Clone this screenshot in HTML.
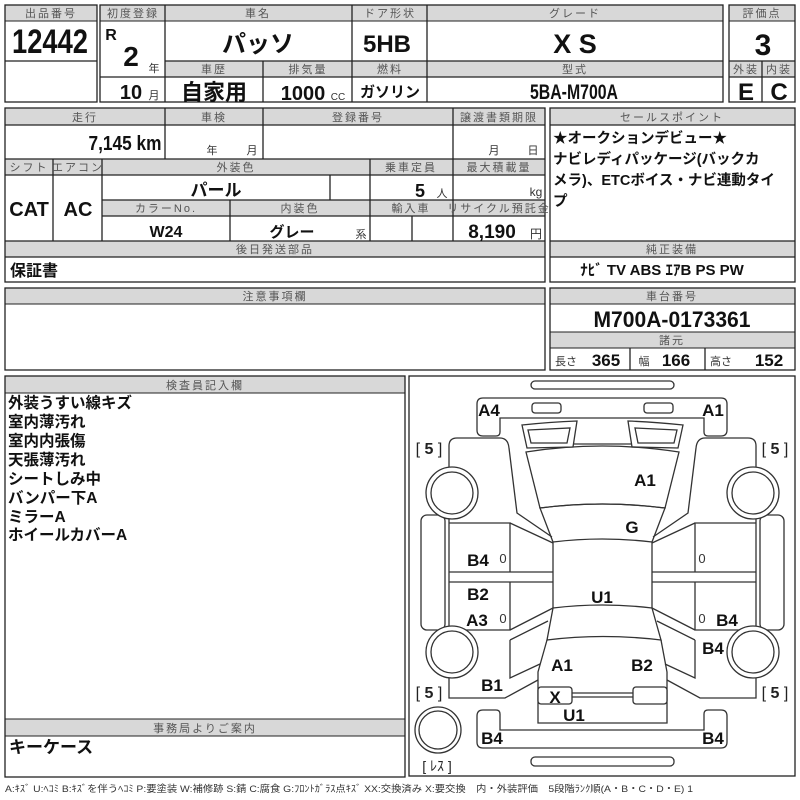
<!DOCTYPE html>
<html><head><meta charset="utf-8"><style>
body{margin:0;background:#fff}
svg{display:block}
text{font-family:"Liberation Sans","Noto Sans CJK JP",sans-serif}
.h{font-size:11px;fill:#555;letter-spacing:2px}
.v{font-weight:bold;fill:#111}
.b{stroke:#222;stroke-width:1.3;fill:none}
.hd{fill:#d8d8d8;stroke:#222;stroke-width:1}
.c{stroke:#333;stroke-width:1.3;fill:none}
.cw{stroke:#333;stroke-width:1.3;fill:#fff}
.lb{font-size:17px;font-weight:bold;fill:#111}
</style></head><body>
<svg width="800" height="800" viewBox="0 0 800 800" xmlns="http://www.w3.org/2000/svg">
<g text-anchor="middle">
<rect class="hd" x="5" y="5" width="92" height="16"/>
<rect class="b" x="5" y="5" width="92" height="97"/>
<line class="b" x1="5" y1="61" x2="97" y2="61"/>
<text class="h" x="51" y="17">出品番号</text>
<text class="v" x="50" y="53" font-size="34" textLength="76" lengthAdjust="spacingAndGlyphs">12442</text>
<rect class="hd" x="100" y="5" width="623" height="16"/>
<rect class="hd" x="165" y="61" width="558" height="16"/>
<rect class="b" x="100" y="5" width="623" height="97"/>
<line class="b" x1="165" y1="5" x2="165" y2="102"/>
<line class="b" x1="352" y1="5" x2="352" y2="102"/>
<line class="b" x1="427" y1="5" x2="427" y2="102"/>
<line class="b" x1="263" y1="61" x2="263" y2="102"/>
<line class="b" x1="100" y1="77" x2="165" y2="77"/>
<line class="b" x1="165" y1="61" x2="723" y2="61"/>
<line class="b" x1="165" y1="77" x2="723" y2="77"/>
<text class="h" x="133" y="17" letter-spacing="0">初度登録</text>
<text class="h" x="258" y="17">車名</text>
<text class="h" x="390" y="17">ドア形状</text>
<text class="h" x="575" y="17">グレード</text>
<text class="h" x="214" y="73">車歴</text>
<text class="h" x="308" y="73">排気量</text>
<text class="h" x="390" y="73">燃料</text>
<text class="h" x="575" y="73">型式</text>
<text class="v" x="111" y="40" font-size="16">R</text>
<text class="v" x="131" y="66" font-size="28">2</text>
<text x="154" y="72" font-size="11" fill="#333">年</text>
<text class="v" x="131" y="99" font-size="20">10</text>
<text x="154" y="99" font-size="11" fill="#333">月</text>
<text class="v" x="258" y="52" font-size="24">パッソ</text>
<text class="v" x="214" y="100" font-size="22">自家用</text>
<text class="v" x="303" y="100" font-size="20">1000</text>
<text x="338" y="100" font-size="10" fill="#333">CC</text>
<text class="v" x="390" y="97" font-size="15">ガソリン</text>
<text class="v" x="387" y="52" font-size="24">5HB</text>
<text class="v" x="575" y="53" font-size="27">X S</text>
<text class="v" x="574" y="99" font-size="21" textLength="88" lengthAdjust="spacingAndGlyphs">5BA-M700A</text>
<rect class="hd" x="729" y="5" width="66" height="16"/>
<rect class="hd" x="729" y="61" width="66" height="16"/>
<rect class="b" x="729" y="5" width="66" height="97"/>
<line class="b" x1="729" y1="61" x2="795" y2="61"/>
<line class="b" x1="729" y1="77" x2="795" y2="77"/>
<line class="b" x1="762" y1="61" x2="762" y2="102"/>
<text class="h" x="762" y="17" letter-spacing="0">評価点</text>
<text class="h" x="746" y="73" letter-spacing="0">外装</text>
<text class="h" x="779" y="73" letter-spacing="0">内装</text>
<text class="v" x="763" y="55" font-size="30">3</text>
<text class="v" x="746" y="100" font-size="24">E</text>
<text class="v" x="779" y="100" font-size="24">C</text>
<rect class="hd" x="5" y="108" width="540" height="17"/>
<rect class="hd" x="5" y="159" width="540" height="16"/>
<rect class="hd" x="102" y="200" width="443" height="16"/>
<rect class="hd" x="5" y="241" width="540" height="16"/>
<rect class="b" x="5" y="108" width="540" height="174"/>
<line class="b" x1="5" y1="125" x2="545" y2="125"/>
<line class="b" x1="5" y1="159" x2="545" y2="159"/>
<line class="b" x1="5" y1="175" x2="545" y2="175"/>
<line class="b" x1="102" y1="200" x2="545" y2="200"/>
<line class="b" x1="102" y1="216" x2="545" y2="216"/>
<line class="b" x1="5" y1="241" x2="545" y2="241"/>
<line class="b" x1="5" y1="257" x2="545" y2="257"/>
<line class="b" x1="165" y1="108" x2="165" y2="159"/>
<line class="b" x1="263" y1="108" x2="263" y2="159"/>
<line class="b" x1="453" y1="108" x2="453" y2="241"/>
<line class="b" x1="53" y1="159" x2="53" y2="241"/>
<line class="b" x1="102" y1="159" x2="102" y2="241"/>
<line class="b" x1="370" y1="159" x2="370" y2="241"/>
<line class="b" x1="330" y1="175" x2="330" y2="200"/>
<line class="b" x1="230" y1="200" x2="230" y2="241"/>
<line class="b" x1="412" y1="216" x2="412" y2="241"/>
<text class="h" x="85" y="121">走行</text>
<text class="h" x="214" y="121">車検</text>
<text class="h" x="358" y="121">登録番号</text>
<text class="h" x="499" y="121" letter-spacing="0">譲渡書類期限</text>
<text class="v" x="125" y="150" font-size="20" textLength="73" lengthAdjust="spacingAndGlyphs">7,145 km</text>
<text x="212" y="154" font-size="11" fill="#333">年</text>
<text x="252" y="154" font-size="11" fill="#333">月</text>
<text x="494" y="154" font-size="11" fill="#333">月</text>
<text x="533" y="154" font-size="11" fill="#333">日</text>
<text class="h" x="29" y="171" letter-spacing="0">シフト</text>
<text class="h" x="78" y="171" letter-spacing="0">エアコン</text>
<text class="h" x="236" y="171">外装色</text>
<text class="h" x="411" y="171" letter-spacing="0">乗車定員</text>
<text class="h" x="499" y="171" letter-spacing="0">最大積載量</text>
<text class="v" x="29" y="216" font-size="20">CAT</text>
<text class="v" x="78" y="216" font-size="20">AC</text>
<text class="v" x="216" y="196" font-size="17">パール</text>
<text class="v" x="420" y="197" font-size="18">5</text>
<text x="442" y="197" font-size="11" fill="#333">人</text>
<text x="536" y="196" font-size="12" fill="#333">kg</text>
<text class="h" x="166" y="212">カラーNo.</text>
<text class="h" x="300" y="212">内装色</text>
<text class="h" x="411" y="212">輸入車</text>
<text class="h" x="499" y="212" letter-spacing="0">リサイクル預託金</text>
<text class="v" x="166" y="237" font-size="16">W24</text>
<text class="v" x="292" y="237" font-size="15">グレー</text>
<text x="361" y="238" font-size="11" fill="#333">系</text>
<text class="v" x="492" y="238" font-size="19">8,190</text>
<text x="536" y="238" font-size="12" fill="#333">円</text>
<text class="h" x="275" y="253">後日発送部品</text>
<text class="v" x="34" y="276" font-size="16">保証書</text>
<rect class="hd" x="550" y="108" width="245" height="17"/>
<rect class="hd" x="550" y="241" width="245" height="16"/>
<rect class="b" x="550" y="108" width="245" height="174"/>
<line class="b" x1="550" y1="125" x2="795" y2="125"/>
<line class="b" x1="550" y1="241" x2="795" y2="241"/>
<line class="b" x1="550" y1="257" x2="795" y2="257"/>
<text class="h" x="672" y="121">セールスポイント</text>
<text class="h" x="672" y="253">純正装備</text>
<text class="v" x="662" y="275" font-size="15">ﾅﾋﾞ TV ABS ｴｱB PS PW</text>
</g>
<g font-size="14.5" font-weight="bold" fill="#111">
<text x="553" y="143">★オークションデビュー★</text>
<text x="553" y="164">ナビレディパッケージ(バックカ</text>
<text x="553" y="185">メラ)、ETCボイス・ナビ連動タイ</text>
<text x="553" y="206">プ</text>
</g>
<g text-anchor="middle">
<rect class="hd" x="5" y="288" width="540" height="16"/>
<rect class="b" x="5" y="288" width="540" height="82"/>
<text class="h" x="275" y="300">注意事項欄</text>
<rect class="hd" x="550" y="288" width="245" height="16"/>
<rect class="hd" x="550" y="332" width="245" height="16"/>
<rect class="b" x="550" y="288" width="245" height="82"/>
<line class="b" x1="630" y1="348" x2="630" y2="370"/>
<line class="b" x1="705" y1="348" x2="705" y2="370"/>
<text class="h" x="672" y="300">車台番号</text>
<text class="h" x="672" y="344">諸元</text>
<text class="v" x="672" y="327" font-size="22" textLength="157" lengthAdjust="spacingAndGlyphs">M700A-0173361</text>
<text x="566" y="365" font-size="11" fill="#333">長さ</text>
<text class="v" x="606" y="366" font-size="17">365</text>
<text x="644" y="365" font-size="11" fill="#333">幅</text>
<text class="v" x="676" y="366" font-size="17">166</text>
<text x="721" y="365" font-size="11" fill="#333">高さ</text>
<text class="v" x="769" y="366" font-size="17">152</text>
<rect class="hd" x="5" y="376" width="400" height="17"/>
<rect class="hd" x="5" y="719" width="400" height="17"/>
<rect class="b" x="5" y="376" width="400" height="401"/>
<text class="h" x="205" y="389">検査員記入欄</text>
<text class="h" x="205" y="732">事務局よりご案内</text>
</g>
<g font-size="15.5" font-weight="bold" fill="#111">
<text x="8" y="408">外装うすい線キズ</text>
<text x="8" y="427">室内薄汚れ</text>
<text x="8" y="446">室内内張傷</text>
<text x="8" y="465">天張薄汚れ</text>
<text x="8" y="484">シートしみ中</text>
<text x="8" y="503">バンパー下A</text>
<text x="8" y="522">ミラーA</text>
<text x="8" y="540">ホイールカバーA</text>
<text x="9" y="753" font-size="17">キーケース</text>
</g>
<text x="5" y="792" font-size="9.5" fill="#333" textLength="688" lengthAdjust="spacingAndGlyphs">A:ｷｽﾞ U:ﾍｺﾐ B:ｷｽﾞを伴うﾍｺﾐ P:要塗装 W:補修跡 S:錆 C:腐食 G:ﾌﾛﾝﾄｶﾞﾗｽ点ｷｽﾞ XX:交換済み X:要交換　内・外装評価　5段階ﾗﾝｸ順(A・B・C・D・E) 1</text>
<rect class="b" x="409" y="376" width="386" height="400"/>
<g id="side">
<path class="c" d="M449,523 L449,446 Q449,438 457,438 L500,438 Q508,438 509,448 L517,513 L552,537"/>
<path class="c" d="M510,523 L553,543"/>
<path class="c" d="M449,523 L510,523 L510,572 M449,572 L553,572 M449,582 L553,582 M510,582 L510,630 L449,630 L449,523 M510,630 L553,608"/>
<path class="c" d="M510,640 L548,621 M510,640 L510,678 L540,664"/>
<path class="c" d="M449,630 L449,698 Q449,698 457,698 L505,698 L538,680"/>
<rect class="c" x="421" y="515" width="24" height="115" rx="6"/>
<circle class="cw" cx="452" cy="493" r="26"/><circle class="c" cx="452" cy="493" r="21"/>
<circle class="cw" cx="452" cy="652" r="26"/><circle class="c" cx="452" cy="652" r="21"/>
<path class="c" d="M522,425 Q550,422 577,421 L573,447 L527,448 Z"/>
<path class="c" d="M528,430 L570,428 L567,443 L531,443 Z"/>
</g>
<use href="#side" transform="translate(1205,0) scale(-1,1)"/>
<rect class="c" x="531" y="381" width="143" height="8" rx="4"/>
<path class="c" d="M483,398 L721,398 Q727,398 727,404 L727,430 Q727,436 721,436 L708,436 Q704,436 704,432 L704,418 L500,418 L500,432 Q500,436 496,436 L483,436 Q477,436 477,430 L477,404 Q477,398 483,398 Z"/>
<rect class="c" x="532" y="403" width="29" height="10" rx="3"/>
<rect class="c" x="644" y="403" width="29" height="10" rx="3"/>
<path class="c" d="M574,444 L631,444"/>
<path class="c" d="M526,452 Q602,440 679,452 L665,508 Q602,500 540,508 Z"/>
<path class="c" d="M540,508 Q602,500 665,508 L652,542 Q602,536 553,542 Z"/>
<path class="c" d="M553,542 L553,608 Q602,602 652,608 L652,542"/>
<path class="c" d="M553,608 L547,640 Q602,633 661,640 L652,608"/>
<path class="c" d="M547,640 L538,672 L538,723 L667,723 L667,672 L661,640"/>
<rect class="cw" x="538" y="687" width="34" height="17" rx="3"/>
<rect class="cw" x="633" y="687" width="34" height="17" rx="3"/>
<path class="c" d="M572,693 L633,693 M572,697 L633,697"/>
<path class="c" d="M483,748 L721,748 Q727,748 727,742 L727,716 Q727,710 721,710 L708,710 Q704,710 704,714 L704,730 L500,730 L500,714 Q500,710 496,710 L483,710 Q477,710 477,716 L477,742 Q477,748 483,748 Z"/>
<rect class="c" x="531" y="757" width="143" height="9" rx="4"/>
<circle class="c" cx="438" cy="730" r="23"/><circle class="c" cx="438" cy="730" r="19"/>
<g text-anchor="middle" class="lb">
<text x="489" y="416">A4</text><text x="713" y="416">A1</text>
<text x="645" y="486">A1</text><text x="632" y="533">G</text>
<text x="478" y="566">B4</text><text x="478" y="600">B2</text><text x="477" y="626">A3</text>
<text x="602" y="603">U1</text>
<text x="727" y="626">B4</text><text x="713" y="654">B4</text>
<text x="562" y="671">A1</text><text x="642" y="671">B2</text>
<text x="492" y="691">B1</text>
<text x="555" y="703">X</text><text x="574" y="721">U1</text>
<text x="492" y="744">B4</text><text x="713" y="744">B4</text>
</g>
<g text-anchor="middle" font-size="13" fill="#333">
<text x="503" y="563">0</text><text x="702" y="563">0</text>
<text x="503" y="623">0</text><text x="702" y="623">0</text>
</g>
<g text-anchor="middle" font-size="16" fill="#222">
<text x="429" y="454">[ <tspan font-weight="bold">5</tspan> ]</text>
<text x="775" y="454">[ <tspan font-weight="bold">5</tspan> ]</text>
<text x="429" y="698">[ <tspan font-weight="bold">5</tspan> ]</text>
<text x="775" y="698">[ <tspan font-weight="bold">5</tspan> ]</text>
<text x="437" y="771" font-size="14">[ ﾚｽ ]</text>
</g>
</svg>
</body></html>
